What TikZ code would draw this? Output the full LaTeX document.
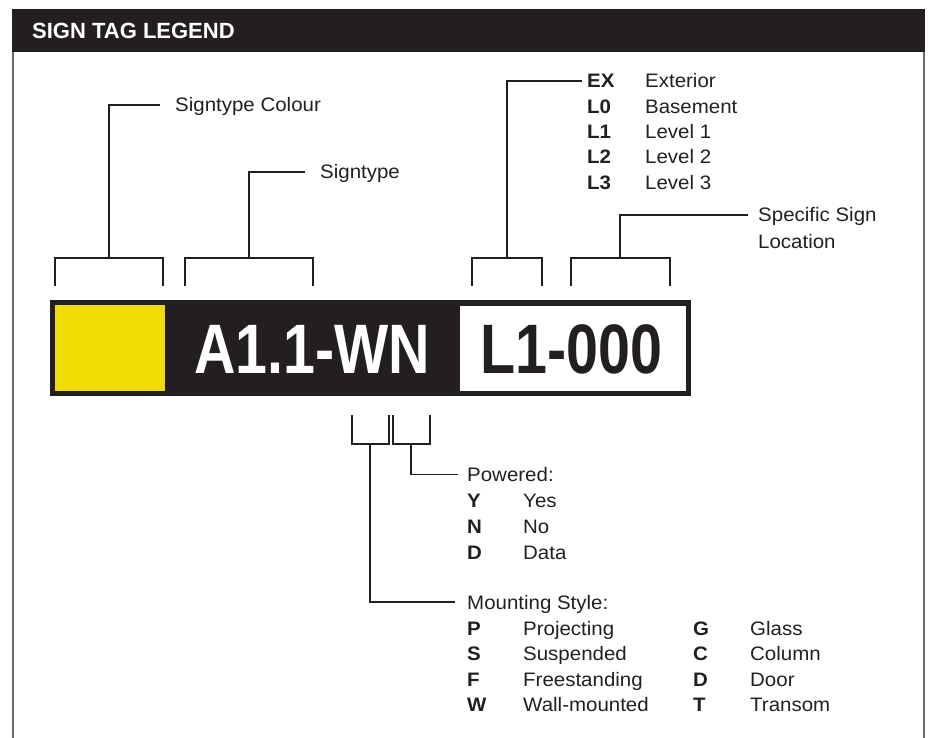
\documentclass[tikz,border=0pt]{standalone}
\usepackage{fontspec}
\setmainfont{Liberation Sans}[FakeStretch=1.05]
\newfontfamily\titlefont{Liberation Sans}
\newfontfamily\tagfont{Liberation Sans}[FakeStretch=0.82]
\usetikzlibrary{positioning,calc}
\definecolor{tagblack}{HTML}{231F20}
\definecolor{tagyellow}{HTML}{EFDC00}
\definecolor{framegray}{HTML}{6A6A6A}
\tikzset{
  headbar/.style={fill=tagblack,draw=none},
  titletext/.style={anchor=west,inner sep=0pt,text=white,
    font=\titlefont\fontsize{22}{26}\selectfont\bfseries},
  tagtext/.style={anchor=base,inner sep=0pt,
    font=\tagfont\fontsize{70}{80}\selectfont\bfseries},
  legtext/.style={anchor=west,inner sep=0pt,text height=14pt,text depth=0pt,
    text=tagblack,font=\fontsize{19.5}{23}\selectfont},
  legkey/.style={legtext,font=\fontsize{19.5}{23}\selectfont\bfseries},
  bracket/.style={line width=1.6pt,draw=tagblack},
  leader/.style={line width=1.6pt,draw=tagblack},
  frameline/.style={line width=2pt,draw=framegray},
}

\begin{document}
\begin{tikzpicture}[x=1pt,y=-1pt]
  \useasboundingbox (0,0) rectangle (934,738);
  % frame and header
  \fill[headbar] (12,9) rectangle (925,52);
  \node[titletext] (title) at (32,31.3) {SIGN TAG LEGEND};
  \draw[frameline] (13,52) -- (13,738);
  \draw[frameline] (924,52) -- (924,738);

  % the sign tag
  \fill[tagblack] (50,300) rectangle (691,396);
  \fill[tagyellow] (55,305) rectangle (165,391);
  \fill[white] (460,306) rectangle (686,391);
  \node[tagtext,text=white] (typecode)  at (312,373)   {A1.1-WN};
  \node[tagtext,text=tagblack] (levelcode) at (571.5,373) {L1-000};

  % labels above
  \node[legtext] (colour) at (175,105) {Signtype Colour};
  \node[legtext] (stype)  at (320,172) {Signtype};
  \node[legkey]  (ex)     at (587,81)    {EX};
  \node[legkey]  (lzero)  at (587,106.3) {L0};
  \node[legkey]  (lone)   at (587,131.6) {L1};
  \node[legkey]  (ltwo)   at (587,156.9) {L2};
  \node[legkey]  (lthree) at (587,182.2) {L3};
  \node[legtext] (exd)     at (645,81)    {Exterior};
  \node[legtext] (lzerod)  at (645,106.3) {Basement};
  \node[legtext] (loned)   at (645,131.6) {Level 1};
  \node[legtext] (ltwod)   at (645,156.9) {Level 2};
  \node[legtext] (lthreed) at (645,182.2) {Level 3};
  \node[legtext] (spec)   at (758,215) {Specific Sign};
  \node[legtext] (loc)    at (758,241) {Location};

  % brackets above
  \coordinate (bcolour) at (109,258);
  \coordinate (bstype)  at (249,258);
  \coordinate (blevel)  at (507,258);
  \coordinate (bspec)   at (620,258);
  \draw[bracket] (55,286) |- (163,258) -- (163,286);
  \draw[bracket] (185,286) |- (313,258) -- (313,286);
  \draw[bracket] (472,286) |- (542,258) -- (542,286);
  \draw[bracket] (571,286) |- (670,258) -- (670,286);
  \draw[leader] (bcolour) |- ([xshift=-15pt]colour.west);
  \draw[leader] (bstype)  |- ([xshift=-15pt]stype.west);
  \draw[leader] (blevel)  |- ([xshift=-5pt]ex.west);
  \draw[leader] (bspec)   |- ([xshift=-10pt]spec.west);

  % labels below
  \node[legtext] (powered) at (467,474.5) {Powered:};
  \node[legkey]  (yk) at (467,500) {Y};
  \node[legkey]  (nk) at (467,526) {N};
  \node[legkey]  (dk) at (467,552) {D};
  \node[legtext] (yd) at (523,500) {Yes};
  \node[legtext] (nd) at (523,526) {No};
  \node[legtext] (dd) at (523,552) {Data};
  \node[legtext] (mount) at (467,602) {Mounting Style:};
  \node[legkey]  (pk) at (467,628)   {P};
  \node[legkey]  (sk) at (467,653.5) {S};
  \node[legkey]  (fk) at (467,679)   {F};
  \node[legkey]  (wk) at (467,704.5) {W};
  \node[legtext] (pd) at (523,628)   {Projecting};
  \node[legtext] (sd) at (523,653.5) {Suspended};
  \node[legtext] (fd) at (523,679)   {Freestanding};
  \node[legtext] (wd) at (523,704.5) {Wall-mounted};
  \node[legkey]  (gk) at (693,628)   {G};
  \node[legkey]  (ck) at (693,653.5) {C};
  \node[legkey]  (dok) at (693,679)  {D};
  \node[legkey]  (tk) at (693,704.5) {T};
  \node[legtext] (gd) at (750,628)   {Glass};
  \node[legtext] (cd) at (750,653.5) {Column};
  \node[legtext] (dod) at (750,679)  {Door};
  \node[legtext] (td) at (750,704.5) {Transom};

  % brackets below
  \coordinate (bmount) at (370,444);
  \coordinate (bpower) at (411,444);
  \draw[bracket] (352,415) |- (389,444) -- (389,415);
  \draw[bracket] (393,415) |- (430,444) -- (430,415);
  \draw[leader] (bmount) |- ([xshift=-12pt]mount.west);
  \draw[leader] (bpower) |- ([xshift=-9pt]powered.west);
\end{tikzpicture}
\end{document}
